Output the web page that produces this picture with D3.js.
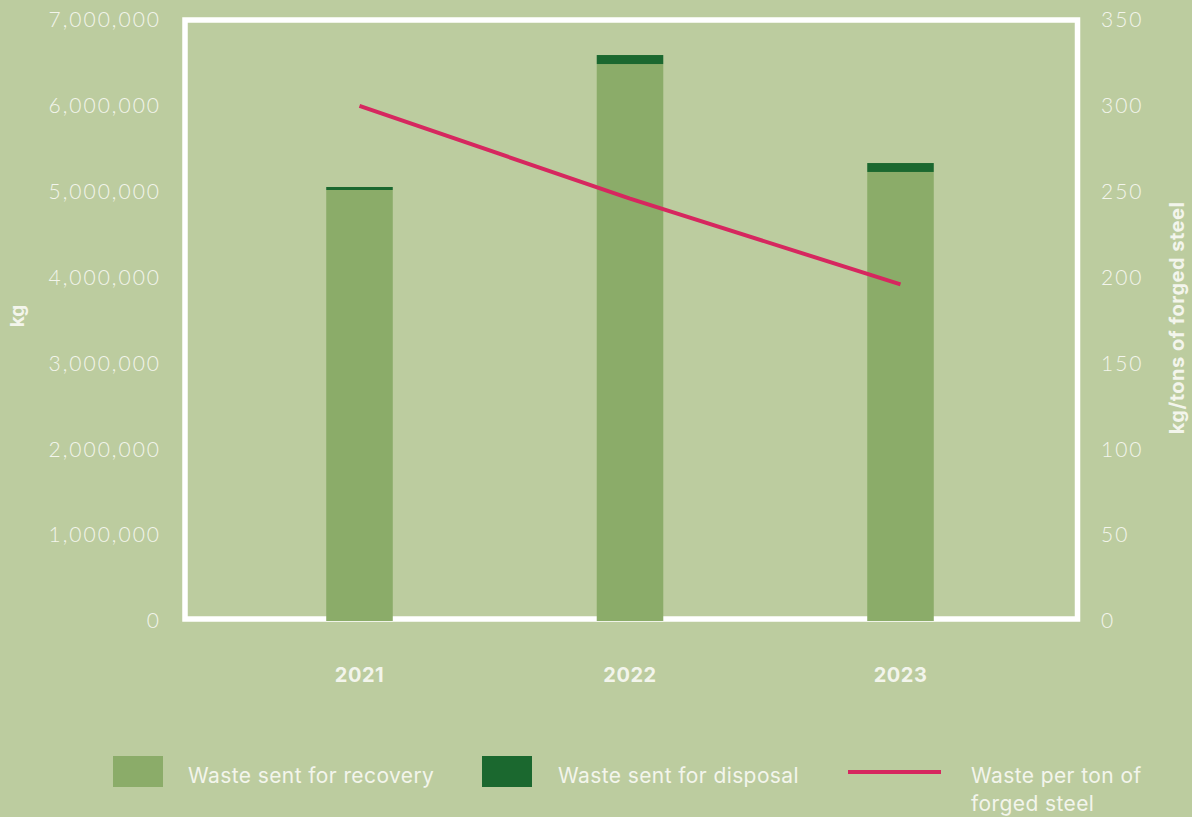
<!DOCTYPE html>
<html>
<head>
<meta charset="utf-8">
<script src="https://cdn.jsdelivr.net/npm/d3@7"></script>
<style>
  html, body { margin: 0; padding: 0; background: #BCCC9F; }
  svg { display: block; }
  text { fill: #F3F5EC; }
</style>
</head>
<body>
<svg id="chart" width="1192" height="817"></svg>
<script>
// Waste volumes per year (kg) and waste intensity (kg per ton of forged steel)
const years = ["2021", "2022", "2023"];
const recovery = [5020000, 6487000, 5230000];
const disposal = [35000, 105000, 104000];
const perTon = [300, 246, 196];
const leftTicks = [0, 1000000, 2000000, 3000000, 4000000, 5000000, 6000000, 7000000];
const rightTicks = [0, 50, 100, 150, 200, 250, 300, 350];

const colors = { recovery: "#8BAC69", disposal: "#1B682F", line: "#D6275F", frame: "#FFFFFF" };

const svg = d3.select("#chart");
const plot = { left: 185, right: 1077.5, top: 20, bottom: 619 };

const x = d3.scaleBand().domain(years).range([224.25, 1035.75]).paddingInner(0.754).paddingOuter(0.377);
const yL = d3.scaleLinear().domain([0, 7000000]).range([621, 20]);
const yR = d3.scaleLinear().domain([0, 350]).range([621, 20]);

// frame
svg.append("rect")
  .attr("x", plot.left).attr("y", plot.top)
  .attr("width", plot.right - plot.left).attr("height", plot.bottom - plot.top)
  .attr("fill", "none").attr("stroke", colors.frame).attr("stroke-width", 5.5);

// stacked bars
const stack = years.map((y, i) => ({ year: y, rec: recovery[i], dis: disposal[i] }));
svg.append("g").selectAll("rect").data(stack).join("rect")
  .attr("x", d => x(d.year)).attr("width", x.bandwidth())
  .attr("y", d => yL(d.rec)).attr("height", d => yL(0) - yL(d.rec))
  .attr("fill", colors.recovery);
svg.append("g").selectAll("rect").data(stack).join("rect")
  .attr("x", d => x(d.year)).attr("width", x.bandwidth())
  .attr("y", d => yL(d.rec + d.dis)).attr("height", d => yL(d.rec) - yL(d.rec + d.dis))
  .attr("fill", colors.disposal);

// intensity line
const line = d3.line()
  .x((d, i) => x(years[i]) + x.bandwidth() / 2)
  .y(d => yR(d));
svg.append("path").datum(perTon)
  .attr("d", line).attr("fill", "none")
  .attr("stroke", colors.line).attr("stroke-width", 4);

// axes
const tickFont = "Lato, 'Open Sans', sans-serif";
const leftAxis = svg.append("g").attr("transform", "translate(161,0)")
  .call(d3.axisLeft(yL).tickValues(leftTicks).tickFormat(d3.format(",")).tickSize(0).tickPadding(0));
const rightAxis = svg.append("g").attr("transform", "translate(1101,0)")
  .call(d3.axisRight(yR).tickValues(rightTicks).tickSize(0).tickPadding(0));
[leftAxis, rightAxis].forEach(a => {
  a.select(".domain").remove();
  a.selectAll("text").attr("fill", "#F3F5EC").style("font-family", tickFont)
    .style("font-weight", 300).style("font-size", "21px").style("letter-spacing", "2px");
});

const bottomAxis = svg.append("g").attr("transform", "translate(0,675)")
  .call(d3.axisBottom(x).tickSize(0).tickPadding(0));
bottomAxis.select(".domain").remove();
bottomAxis.selectAll("text").attr("fill", "#F3F5EC").attr("dy", "0.35em")
  .style("font-family", "Inter, sans-serif").style("font-weight", 700)
  .style("font-size", "20px").style("letter-spacing", "0.5px");

// axis titles
svg.append("text").attr("transform", "translate(24,316) rotate(-90)")
  .attr("text-anchor", "middle")
  .style("font-family", "Inter, sans-serif").style("font-weight", 700).style("font-size", "19px")
  .text("kg");
svg.append("text").attr("transform", "translate(1184,318) rotate(-90)")
  .attr("text-anchor", "middle")
  .style("font-family", "Inter, sans-serif").style("font-weight", 700)
  .style("font-size", "20px").style("letter-spacing", "0.5px")
  .text("kg/tons of forged steel");

// legend
const legendFont = "Inter, sans-serif";
const lg = svg.append("g").style("font-family", legendFont).style("font-size", "21px")
  .style("font-weight", 400).style("letter-spacing", "0.4px");
lg.append("rect").attr("x", 113).attr("y", 756).attr("width", 50).attr("height", 31).attr("fill", colors.recovery);
lg.append("text").attr("x", 188).attr("y", 783).text("Waste sent for recovery");
lg.append("rect").attr("x", 482).attr("y", 756).attr("width", 50).attr("height", 31).attr("fill", colors.disposal);
lg.append("text").attr("x", 558).attr("y", 783).text("Waste sent for disposal");
lg.append("line").attr("x1", 848).attr("x2", 941).attr("y1", 772).attr("y2", 772)
  .attr("stroke", colors.line).attr("stroke-width", 4);
const t3 = lg.append("text").attr("x", 971).attr("y", 783);
t3.append("tspan").attr("x", 971).text("Waste per ton of");
t3.append("tspan").attr("x", 971).attr("dy", 28).text("forged steel");
</script>
</body>
</html>
